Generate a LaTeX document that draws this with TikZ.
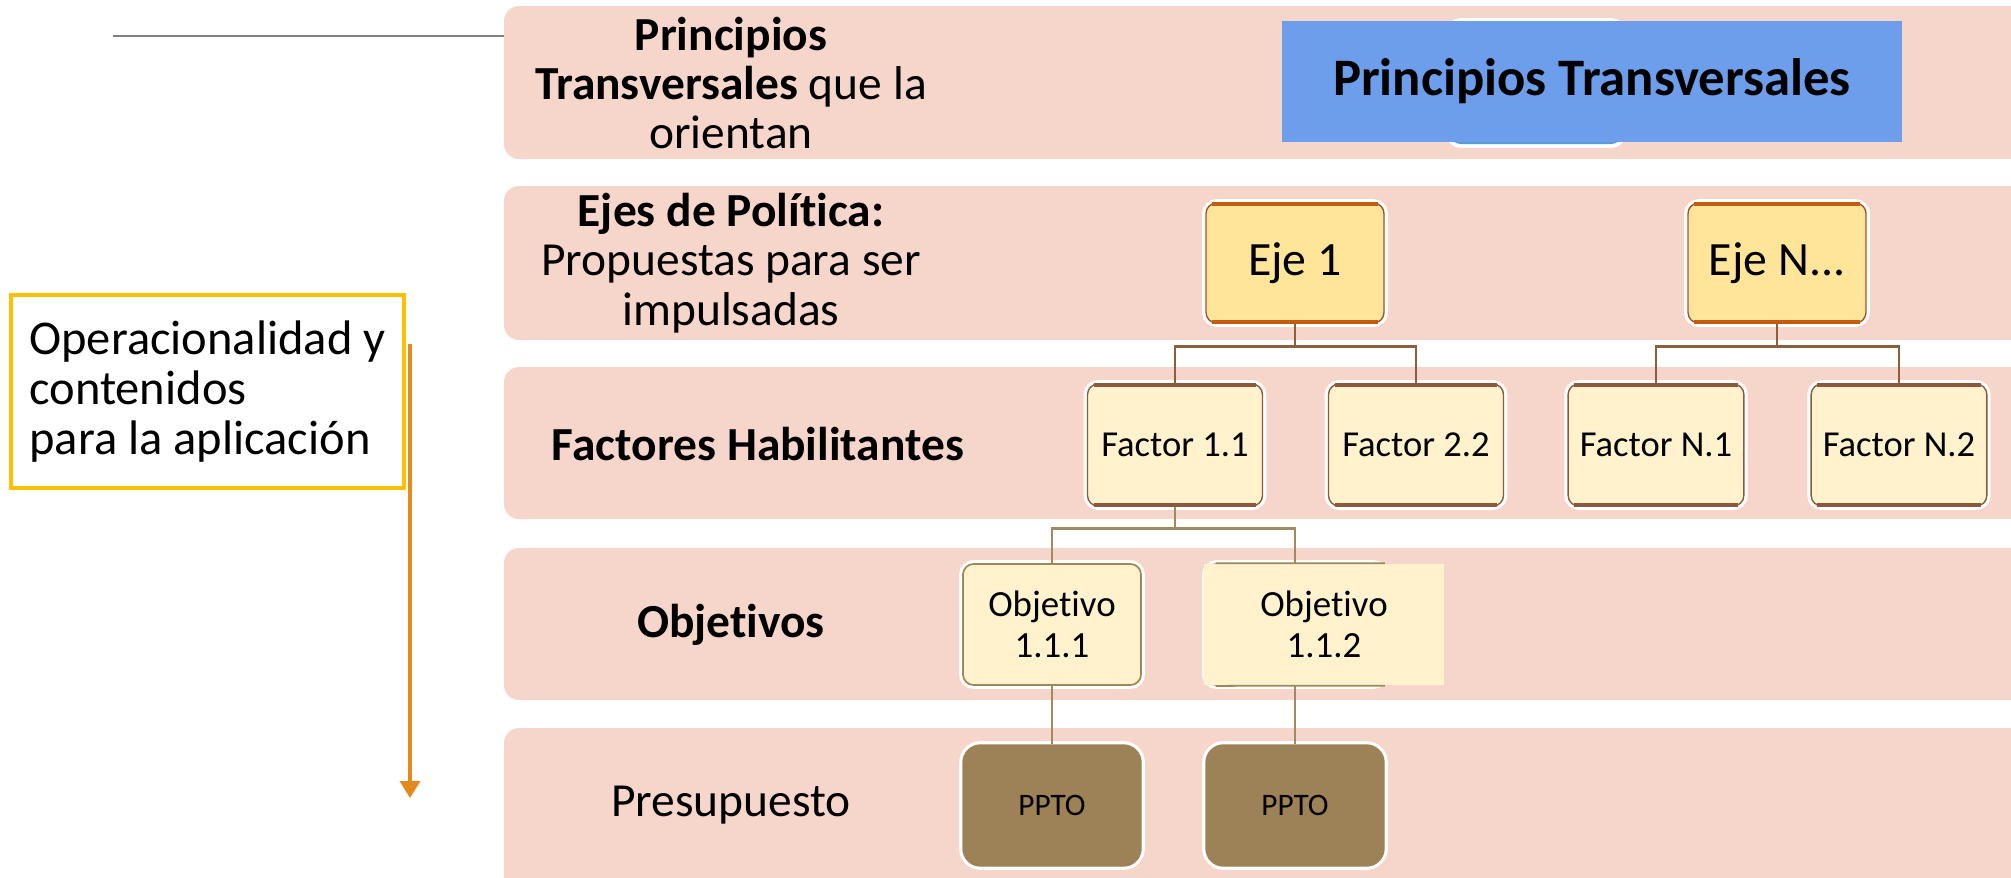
\documentclass[tikz,border=0pt]{standalone}
\usepackage{fontspec}
\setmainfont{Carlito}[RawFeature={-liga;-calt;-clig;-dlig}]
\usepackage{xcolor}
\usepackage{tikz}
\usetikzlibrary{arrows.meta}

\definecolor{bandpink}{HTML}{F6D5CB}
\definecolor{ptblue}{HTML}{6D9EEB}
\definecolor{ptback}{HTML}{5B9BD5}
\definecolor{ejefill}{HTML}{FFE599}
\definecolor{ejeedge}{HTML}{C55A11}
\definecolor{ejeside}{HTML}{A0522D}
\definecolor{boxfill}{HTML}{FFF2CC}
\definecolor{factoredge}{HTML}{8B5A3C}
\definecolor{objedge}{HTML}{A0875A}
\definecolor{pptofill}{HTML}{9C8256}
\definecolor{linkdark}{HTML}{8B5E3C}
\definecolor{linklight}{HTML}{A08A60}
\definecolor{operyellow}{HTML}{FFC000}
\definecolor{operorange}{HTML}{E38A1C}

\begin{document}
\begin{tikzpicture}[
    band/.style={fill=bandpink, rounded corners=0.15cm},
    bandlabel/.style={align=center, font=\fontsize{13.5}{14}\selectfont},
    rim/.style={preaction={draw=white, line width=2.2pt}},
    ejebox/.style={rectangle, rim, fill=ejefill, draw=ejeside, line width=0.4pt,
        rounded corners=3pt, minimum width=1.78cm, minimum height=1.20cm,
        font=\fontsize{13.6}{15}\selectfont},
    factorbox/.style={rectangle, rim, fill=boxfill, draw=factoredge, line width=0.4pt,
        rounded corners=3pt, minimum width=1.75cm, minimum height=1.22cm,
        font=\fontsize{10.4}{12}\selectfont},
    objbox/.style={rectangle, rim, fill=boxfill, draw=objedge, line width=0.5pt,
        rounded corners=3pt, minimum width=1.78cm, minimum height=1.21cm,
        align=center, font=\fontsize{10.5}{11.5}\selectfont},
    pptobox/.style={rectangle, rim, fill=pptofill, draw=pptofill,
        rounded corners=5pt, minimum width=1.78cm, minimum height=1.21cm,
        font=\fontsize{8.9}{10}\selectfont},
    linkdk/.style={draw=linkdark, line width=0.7pt},
    linklt/.style={draw=linklight, line width=0.7pt}
]

        \useasboundingbox (0,0) rectangle (20.11,-8.77);
        \clip (0,0) rectangle (20.11,-8.77);

        % ---------- Bands ----------
        \fill[band] (5.04,-0.06) rectangle (20.40,-1.59);
        \fill[band] (5.04,-1.86) rectangle (20.40,-3.40);
        \fill[band] (5.04,-3.67) rectangle (20.40,-5.19);
        \fill[band] (5.04,-5.48) rectangle (20.40,-7.00);
        \fill[band] (5.04,-7.28) rectangle (20.40,-9.20);

        % band labels
        \node[bandlabel] (lblpt) at (7.31,-0.83)
            {\textbf{Principios}\\\textbf{Transversales} que la\\orientan};
        \node[bandlabel] (lbleje) at (7.31,-2.63)
            {\textbf{Ejes de Política:}\\Propuestas para ser\\impulsadas};
        \node[bandlabel] (lblfac) at (7.58,-4.44) {\textbf{Factores Habilitantes}};
        \node[bandlabel] (lblobj) at (7.31,-6.25) {\textbf{Objetivos}};
        \node[bandlabel] (lblppto) at (7.31,-8.05) {Presupuesto};

        % gray line into top band
        \coordinate (grayleft) at (1.13,-0.36);
        \coordinate (grayright) at (5.04,-0.36);
        \draw[gray, line width=0.6pt] (grayleft) -- (grayright);

        % ---------- Principios Transversales ----------
        \node[rectangle, rim, fill=ptback, rounded corners=3pt,
            minimum width=1.72cm, minimum height=1.22cm] (ptshape) at (15.36,-0.83) {};
        \node[rectangle, fill=ptblue, minimum width=6.20cm, minimum height=1.21cm,
            font=\bfseries\fontsize{15}{17}\selectfont] (pt) at (15.92,-0.815)
            {Principios Transversales};

        % ---------- Ejes ----------
        \node[ejebox] (e1) at (12.95,-2.63) {Eje 1};
        \node[ejebox] (eN) at (17.77,-2.63) {Eje N...};
        \foreach \n in {e1,eN} {
            \draw[ejeedge, line width=0.9pt] ([xshift=2pt,yshift=-0.5pt]\n.north west) -- ([xshift=-2pt,yshift=-0.5pt]\n.north east);
            \draw[ejeedge, line width=0.9pt] ([xshift=2pt,yshift=0.5pt]\n.south west) -- ([xshift=-2pt,yshift=0.5pt]\n.south east);
        }

        % ---------- Factores ----------
        \node[factorbox] (f11) at (11.75,-4.45) {Factor 1.1};
        \node[factorbox] (f22) at (14.16,-4.45) {Factor 2.2};
        \node[factorbox] (fN1) at (16.56,-4.45) {Factor N.1};
        \node[factorbox] (fN2) at (18.99,-4.45) {Factor N.2};
        \foreach \n in {f11,f22,fN1,fN2} {
            \draw[factoredge, line width=0.9pt] ([xshift=2pt,yshift=-0.5pt]\n.north west) -- ([xshift=-2pt,yshift=-0.5pt]\n.north east);
            \draw[factoredge, line width=0.9pt] ([xshift=2pt,yshift=0.5pt]\n.south west) -- ([xshift=-2pt,yshift=0.5pt]\n.south east);
        }

        % eje to factor links
        \draw[linkdk] (e1.south) -- ++(0,-0.23) -| (f11.north);
        \draw[linkdk] (e1.south) -- ++(0,-0.23) -| (f22.north);
        \draw[linkdk] (eN.south) -- ++(0,-0.23) -| (fN1.north);
        \draw[linkdk] (eN.south) -- ++(0,-0.23) -| (fN2.north);

        % ---------- Objetivos ----------
        \node[objbox] (o1) at (10.52,-6.245) {Objetivo\\1.1.1};
        \node[objbox] (o2) at (12.95,-6.245) {};
        \node[rectangle, fill=boxfill, minimum width=2.40cm, minimum height=1.21cm,
            align=center, font=\fontsize{10.5}{11.5}\selectfont] (o2txt) at (13.24,-6.245)
            {Objetivo\\1.1.2};
        \draw[objedge, line width=0.5pt] ([xshift=3pt]o2.north west) -- (o2txt.north -| o2.north east)
            ([xshift=3pt]o2.south west) -- (o2txt.south -| o2.south east);

        \draw[linklt] (f11.south) -- ++(0,-0.22) -| (o1.north);
        \draw[linklt] (f11.south) -- ++(0,-0.22) -| (o2.north);

        % ---------- Presupuesto ----------
        \node[pptobox] (p1) at (10.52,-8.055) {PPTO};
        \node[pptobox] (p2) at (12.95,-8.055) {PPTO};
        \draw[linklt] (o1.south) -- (p1.north);
        \draw[linklt] (o2.south) -- (p2.north);

        % ---------- Operacionalidad ----------
        \node[rectangle, draw=operyellow, line width=1.4pt, fill=white, align=left,
            minimum width=3.93cm, minimum height=1.93cm, inner xsep=0.12cm,
            font=\fontsize{13.8}{14.3}\selectfont] (oper) at (2.075,-3.915)
            {Operacionalidad y\\contenidos\\para la aplicación\hspace{0.9em}};
        \coordinate (opertop) at (4.10,-3.44);
        \coordinate (operend) at (4.10,-7.98);
        \draw[operorange, line width=1.1pt, -{Triangle[width=0.2cm, length=0.17cm]}] (opertop) -- (operend);

\end{tikzpicture}
\end{document}
